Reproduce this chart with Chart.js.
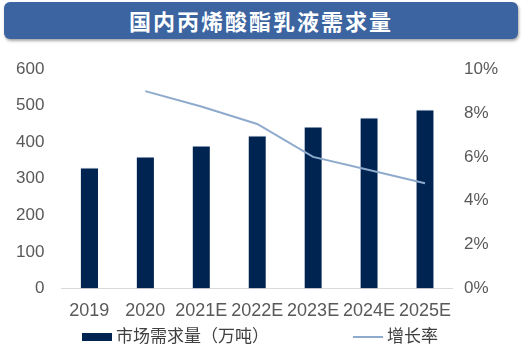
<!DOCTYPE html>
<html>
<head>
<meta charset="utf-8">
<script src="https://cdn.jsdelivr.net/npm/chart.js@4"></script>
<style>
  body { margin: 0; width: 523px; height: 347px; background: #fff; position: relative; overflow: hidden; font-family: "Liberation Sans", Arial, sans-serif; }
  #titulo { position: absolute; left: 4px; top: 2px; width: 514px; height: 37px; background: #3b64a0; border-radius: 6px;
    box-shadow: 1px 2px 3px rgba(0,0,0,0.35); color: #fff; font: bold 22px "Noto Sans CJK SC", sans-serif; text-align: center; line-height: 37px; letter-spacing: 2px; }
  #wrap { position: absolute; left: -1px; top: 50px; width: 514px; height: 276px; }
  .ley { position: absolute; top: 322px; font: 17px "Noto Sans CJK SC", sans-serif; color: #404040; }
  .ley span { display: inline-block; vertical-align: middle; margin-right: 4px; }
</style>
</head>
<body>
<div id="titulo">国内丙烯酸酯乳液需求量</div>
<div id="wrap"><canvas id="grafico"></canvas></div>
<div class="ley" style="left:82px"><span style="width:30px;height:8px;background:#002452"></span>市场需求量（万吨）</div>
<div class="ley" style="left:353px"><span style="width:30px;height:2px;background:#8eaacc"></span>增长率</div>
<script>
// datos
const anios = ["2019", "2020", "2021E", "2022E", "2023E", "2024E", "2025E"];
const demanda = [330, 360, 390, 418, 442, 467, 489];
const crecimiento = [null, 0.09, 0.083, 0.075, 0.06, 0.054, 0.048];

const ctx = document.getElementById("grafico").getContext("2d");
const chart = new Chart(ctx, {
  type: "bar",
  data: {
    labels: anios,
    datasets: [
      {
        label: "增长率",
        type: "line",
        data: crecimiento,
        yAxisID: "y1",
        borderColor: "#8eaacc",
        borderWidth: 2,
        pointRadius: 0,
        tension: 0,
        fill: false,
      },
      {
        label: "市场需求量（万吨）",
        data: demanda,
        yAxisID: "y",
        backgroundColor: "#002452",
        borderColor: "#7f93b0",
        borderWidth: { top: 1, left: 0, right: 0, bottom: 0 },
        barPercentage: 0.31,
        categoryPercentage: 1,
      },
    ],
  },
  options: {
    responsive: true,
    maintainAspectRatio: false,
    animation: false,
    layout: { padding: { left: 8, right: 12, top: 0, bottom: 0 } },
    plugins: { legend: { display: false }, tooltip: { enabled: false } },
    scales: {
      x: {
        grid: { display: false },
        border: { color: "#d9d9d9" },
        ticks: { color: "#595959", font: { size: 18 }, padding: 4, maxRotation: 0 },
      },
      y: {
        min: 0,
        max: 600,
        grid: { display: false },
        border: { display: false },
        ticks: { stepSize: 100, color: "#595959", font: { size: 17 }, padding: 9 },
      },
      y1: {
        position: "right",
        min: 0,
        max: 0.1,
        grid: { display: false },
        border: { display: false },
        ticks: {
          stepSize: 0.02,
          color: "#595959",
          font: { size: 17 },
          padding: 3,
          callback: (v) => Math.round(v * 100) + "%",
        },
      },
    },
  },
});
</script>
</body>
</html>
